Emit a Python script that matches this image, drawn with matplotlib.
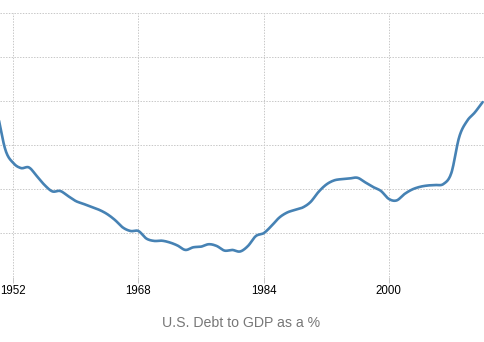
import numpy as np
import matplotlib
matplotlib.use("Agg")
import matplotlib.pyplot as plt

# U.S. gross federal debt as a share of GDP, annual
years = list(range(1950, 2013))
debt_pct = [
    94.0, 77.7, 71.8, 69.5, 69.8, 65.9, 61.8, 58.9, 59.1, 56.8,
    54.5, 53.2, 51.8, 50.5, 48.6, 45.9, 42.5, 40.9, 40.9, 37.5,
    36.4, 36.5, 35.7, 34.3, 32.3, 33.5, 33.8, 34.9, 34.1, 32.0,
    32.3, 31.6, 34.1, 38.6, 39.9, 43.2, 47.0, 49.3, 50.5, 51.6,
    54.1, 58.6, 62.0, 63.9, 64.5, 64.8, 65.1, 63.0, 60.9, 59.1,
    55.5, 54.8, 57.7, 59.8, 61.0, 61.6, 61.8, 62.3, 67.3, 83.6,
    90.9, 94.8, 99.5,
]
tick_years = [1952, 1968, 1984, 2000]
title = "U.S. Debt to GDP as a %"


def smooth_curve(x, y, steps=12):
    """Catmull-Rom cubic through every data point, for a smooth line."""
    x = np.asarray(x, float)
    y = np.asarray(y, float)
    m = np.gradient(y, x)
    xs, ys = [], []
    for i in range(len(x) - 1):
        h = x[i + 1] - x[i]
        t = np.linspace(0, 1, steps, endpoint=False)
        h00 = 2 * t**3 - 3 * t**2 + 1
        h10 = t**3 - 2 * t**2 + t
        h01 = -2 * t**3 + 3 * t**2
        h11 = t**3 - t**2
        xs.append(x[i] + t * h)
        ys.append(h00 * y[i] + h10 * h * m[i] + h01 * y[i + 1] + h11 * h * m[i + 1])
    xs.append([x[-1]])
    ys.append([y[-1]])
    return np.concatenate(xs), np.concatenate(ys)


fig = plt.figure(figsize=(4.85, 3.42), dpi=100)
ax = fig.add_axes([0.0, 65 / 342, 1.0, 264 / 342])

sx, sy = smooth_curve(years, debt_pct)
ax.plot(sx, sy, color="#4682b4", linewidth=1.9, solid_capstyle="round", clip_on=False)

ax.set_xlim(1950.3, 2012.3)
ax.set_ylim(20, 140)
ax.set_yticks(np.arange(20, 141, 20))
ax.set_xticks(tick_years)
ax.set_xticklabels([str(y) for y in tick_years])

ax.grid(True, color="#c8c8c8", linestyle=(0, (1.4, 1.4)), linewidth=0.72)
ax.set_axisbelow(True)
for s in ax.spines.values():
    s.set_visible(False)

ax.tick_params(axis="y", left=False, labelleft=False)
ax.tick_params(axis="x", length=4, width=0.72, color="#c8c8c8", pad=2,
               labelsize=8.3, labelcolor="#000000")
for lab in ax.get_xticklabels():
    lab.set_fontfamily("Liberation Sans")

fig.text(0.497, 1 - 323 / 342, title, ha="center", va="center",
         fontsize=10.2, color="#777777", family="Liberation Sans")

fig.savefig("out.png", dpi=100)
